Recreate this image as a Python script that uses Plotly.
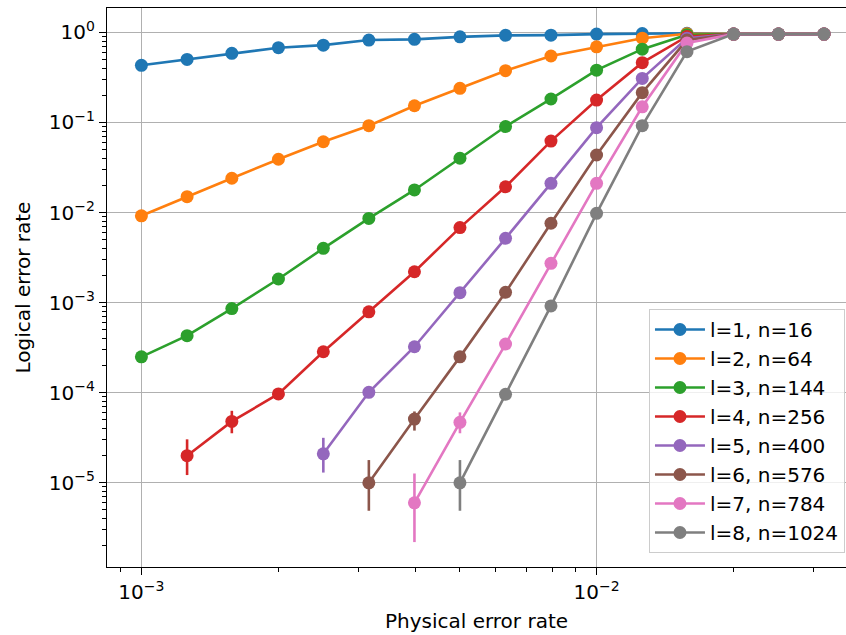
import plotly.graph_objects as go

# Physical error rates swept in the simulation
phys_err = [0.001, 0.00126, 0.00158, 0.002, 0.00251, 0.00316, 0.00398, 0.00501,
            0.00631, 0.00794, 0.01, 0.0126, 0.0158, 0.02, 0.0251, 0.0316]

# Logical error rates per code size (each series starts at a different sweep index)
ler_l1 = [0.43, 0.50, 0.585, 0.675, 0.72, 0.82, 0.835, 0.89, 0.925, 0.93, 0.955, 0.97, 0.975, 0.955, 0.955, 0.955]
ler_l2 = [0.0092, 0.015, 0.024, 0.039, 0.061, 0.092, 0.153, 0.239, 0.375, 0.546, 0.69, 0.86, 0.965, 0.955, 0.955, 0.955]
ler_l3 = [2.5e-4, 4.3e-4, 8.6e-4, 1.83e-3, 4.0e-3, 8.6e-3, 0.0178, 0.040, 0.090, 0.182, 0.38, 0.65, 0.94, 0.955, 0.955, 0.955]
ler_l4 = [2.0e-5, 4.8e-5, 9.7e-5, 2.85e-4, 7.9e-4, 2.2e-3, 6.8e-3, 0.0193, 0.062, 0.177, 0.46, 0.90, 0.955, 0.955, 0.955]
ler_l5 = [2.1e-5, 1.01e-4, 3.24e-4, 1.29e-3, 5.17e-3, 0.0211, 0.0873, 0.308, 0.86, 0.955, 0.955, 0.955]
ler_l6 = [1.0e-5, 5.1e-5, 2.5e-4, 1.3e-3, 7.6e-3, 0.0435, 0.214, 0.82, 0.955, 0.955, 0.955]
ler_l7 = [6.0e-6, 4.7e-5, 3.47e-4, 2.73e-3, 0.0211, 0.149, 0.76, 0.955, 0.955, 0.955]
ler_l8 = [1.0e-5, 9.6e-5, 9.2e-4, 9.8e-3, 0.092, 0.61, 0.955, 0.955, 0.955]

# Statistical error bars (lower / upper) on the first points of the sparse series
err_lo_l4 = [0.78e-5, 1.25e-5]
err_hi_l4 = [1.04e-5, 1.5e-5]
err_lo_l5 = [0.8e-5]
err_hi_l5 = [1.06e-5]
err_lo_l6 = [0.51e-5, 1.3e-5]
err_hi_l6 = [0.79e-5, 1.1e-5]
err_lo_l7 = [3.8e-6, 1.15e-5]
err_hi_l7 = [6.7e-6, 1.35e-5]
err_lo_l8 = [0.51e-5]
err_hi_l8 = [0.79e-5]

labels = ["l=1, n=16", "l=2, n=64", "l=3, n=144", "l=4, n=256",
          "l=5, n=400", "l=6, n=576", "l=7, n=784", "l=8, n=1024"]

x_tickvals = [1e-3, 1e-2]
x_ticktext = ["10<sup>−3</sup>", "10<sup>−2</sup>"]
y_tickvals = [1e-5, 1e-4, 1e-3, 1e-2, 1e-1, 1]
y_ticktext = ["10<sup>−5</sup>", "10<sup>−4</sup>", "10<sup>−3</sup>",
              "10<sup>−2</sup>", "10<sup>−1</sup>", "10<sup>0</sup>"]

colors = ["#1f77b4", "#ff7f0e", "#2ca02c", "#d62728",
          "#9467bd", "#8c564b", "#e377c2", "#7f7f7f"]

series = [ler_l1, ler_l2, ler_l3, ler_l4, ler_l5, ler_l6, ler_l7, ler_l8]
err_lo = [[], [], [], err_lo_l4, err_lo_l5, err_lo_l6, err_lo_l7, err_lo_l8]
err_hi = [[], [], [], err_hi_l4, err_hi_l5, err_hi_l6, err_hi_l7, err_hi_l8]

FONT = "DejaVu Sans"

fig = go.Figure()
for i, ys in enumerate(series):
    xs = phys_err[len(phys_err) - len(ys):]
    lo = err_lo[i] + [0] * (len(ys) - len(err_lo[i]))
    hi = err_hi[i] + [0] * (len(ys) - len(err_hi[i]))
    fig.add_trace(go.Scatter(
        x=xs, y=ys, name=labels[i],
        mode="lines+markers",
        line=dict(color=colors[i], width=2.6),
        marker=dict(color=colors[i], size=13),
        error_y=dict(type="data", array=hi, arrayminus=lo, symmetric=False,
                     color=colors[i], thickness=2.6, width=0, visible=True),
    ))

minor_vals = [m * 10 ** e for e in range(-7, 1) for m in range(2, 10)]

fig.update_layout(
    width=846, height=635,
    margin=dict(l=107, r=0, t=8, b=68),
    paper_bgcolor="white", plot_bgcolor="white",
    font=dict(family=FONT, size=20, color="black"),
    showlegend=True,
    legend=dict(
        x=0.9986, xanchor="right", y=0.4615, yanchor="top",
        bgcolor="rgba(255,255,255,0.8)", bordercolor="#cccccc", borderwidth=1,
        font=dict(family=FONT, size=20, color="black"),
        itemwidth=50,
    ),
)

fig.update_xaxes(
    type="log", range=[-3.0756, -1.452],
    tickmode="array", tickvals=x_tickvals, ticktext=x_ticktext,
    showline=True, linecolor="black", linewidth=1.3, mirror=True,
    ticks="outside", ticklen=7, tickwidth=1.3, tickcolor="black",
    showgrid=True, gridcolor="#b0b0b0", gridwidth=1.3,
    minor=dict(tickmode="array", tickvals=minor_vals, ticks="outside",
               ticklen=4, tickwidth=1, tickcolor="black", showgrid=False),
    zeroline=False, automargin=False,
    title=dict(text="Physical error rate", font=dict(family=FONT, size=20), standoff=10),
)

fig.update_yaxes(
    type="log", range=[-5.934, 0.2697],
    tickmode="array", tickvals=y_tickvals, ticktext=y_ticktext,
    showline=True, linecolor="black", linewidth=1.3, mirror=False,
    ticks="outside", ticklen=7, tickwidth=1.3, tickcolor="black",
    showgrid=True, gridcolor="#b0b0b0", gridwidth=1.3,
    minor=dict(tickmode="array", tickvals=minor_vals, ticks="outside",
               ticklen=4, tickwidth=1, tickcolor="black", showgrid=False),
    zeroline=False, automargin=False,
    title=dict(text="Logical error rate", font=dict(family=FONT, size=20), standoff=12),
)

fig.write_html("out.html")
